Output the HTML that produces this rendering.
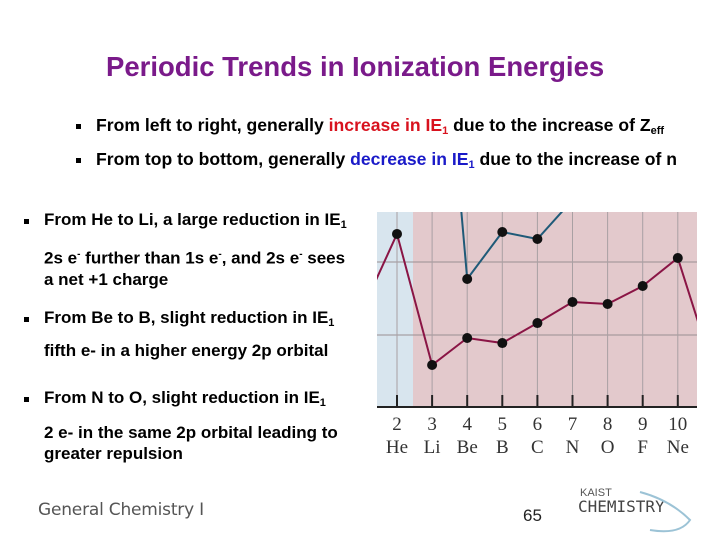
<!DOCTYPE html>
<html><head><meta charset="utf-8"><style>
body{margin:0;width:720px;height:540px;background:#fff;position:relative;overflow:hidden;font-family:"Liberation Sans",Arial,sans-serif}
.t{position:absolute;white-space:nowrap;font-weight:bold;font-size:17px;color:#000}
.b{position:absolute;width:5px;height:5px;background:#000}
sub{font-size:11px;vertical-align:-3px}
sup{font-size:10px}
</style></head><body>
<div class="t" style="left:106px;top:51px;font-size:27.5px;color:#7a1a8a">Periodic Trends in Ionization Energies</div>
<div class="b" style="left:76px;top:124px"></div>
<div class="t" style="left:96px;top:115px;font-size:17.6px">From left to right, generally <span style="color:#d8121e">increase in IE<sub>1</sub></span> due to the increase of Z<sub>eff</sub></div>
<div class="b" style="left:76px;top:158px"></div>
<div class="t" style="left:96px;top:149px;font-size:17.6px">From top to bottom, generally <span style="color:#1a1ac8">decrease in IE<sub>1</sub></span> due to the increase of n</div>
<div class="b" style="left:24px;top:219px"></div>
<div class="t" style="left:44px;top:210px">From He to Li, a large reduction in IE<sub>1</sub></div>
<div class="t" style="left:44px;top:244px;line-height:21px">2s e<sup>-</sup> further than 1s e<sup>-</sup>, and 2s e<sup>-</sup> sees<br>a net +1 charge</div>
<div class="b" style="left:24px;top:317px"></div>
<div class="t" style="left:44px;top:308px">From Be to B, slight reduction in IE<sub>1</sub></div>
<div class="t" style="left:44px;top:341px">fifth e- in a higher energy 2p orbital</div>
<div class="b" style="left:24px;top:397px"></div>
<div class="t" style="left:44px;top:388px">From N to O, slight reduction in IE<sub>1</sub></div>
<div class="t" style="left:44px;top:422px;line-height:21px">2 e- in the same 2p orbital leading to<br>greater repulsion</div>
<div class="t" style="left:38px;top:500px;font-weight:normal;font-size:17px;color:#555;font-family:'DejaVu Sans',sans-serif;letter-spacing:-0.2px">General Chemistry I</div>
<div class="t" style="left:523px;top:506px;font-weight:normal;font-size:17px;color:#222">65</div>
<div class="t" style="left:580px;top:487px;font-weight:normal;font-size:11px;color:#555">KAIST</div>
<div class="t" style="left:578px;top:497px;font-weight:normal;font-size:16px;color:#444;font-family:'DejaVu Sans Mono',monospace">CHEMISTRY</div>
<svg id="chart" width="720" height="540" style="position:absolute;left:0;top:0"></svg>
<script>
const zs=[1,2,3,4,5,6,7,8,9,10,11];
const symbols=["H","He","Li","Be","B","C","N","O","F","Ne","Na"];
const ie1=[1330,2384,589,959,890,1164,1452,1425,1671,2055,540];
const ie2Z=[3,4,5,6,7];
const ie2=[7300,1767,2411,2315,2849];
const gridVals=[1000,2000];
const NS="http://www.w3.org/2000/svg";
const svg=document.getElementById('chart');
const X0=377,X1=697,Y0=212,Y1=407;
const xs=z=>397+(z-2)*35.1;
const ys=v=>335-(v-1000)*0.073;
function mk(t,a,p){const e=document.createElementNS(NS,t);for(const k in a)e.setAttribute(k,a[k]);(p||svg).appendChild(e);return e;}
const defs=mk('defs',{});const cp=mk('clipPath',{id:'cp'},defs);mk('rect',{x:X0,y:Y0,width:X1-X0,height:Y1-Y0},cp);
let r=mk('rect',{x:X0,y:Y0,width:413-X0,height:Y1-Y0,fill:'#d8e5ee'});

r=mk('rect',{x:413,y:Y0,width:X1-413,height:Y1-Y0,fill:'#e3c9cc'});

gridVals.forEach(v=>{const l=mk('line',{x1:X0,x2:X1,y1:ys(v),y2:ys(v),stroke:'#9a8f92','stroke-width':1});
});
zs.forEach((z,i)=>{if(z<2||z>10)return;const x=xs(z);
const g=mk('line',{x1:x,x2:x,y1:Y0,y2:Y1,stroke:'#a9a0a3','stroke-width':1});

const tk=mk('line',{x1:x,x2:x,y1:395,y2:406,stroke:'#222','stroke-width':2});

const t1=mk('text',{x:x,y:430,'text-anchor':'middle','font-family':'Liberation Serif,serif','font-size':19,fill:'#333'});t1.textContent=z;

const t2=mk('text',{x:x,y:453,'text-anchor':'middle','font-family':'Liberation Serif,serif','font-size':19,fill:'#333'});t2.textContent=symbols[i];
});
const ax=mk('line',{x1:X0,x2:X1,y1:Y1,y2:Y1,stroke:'#222','stroke-width':2});

const g=mk('g',{'clip-path':'url(#cp)'});
const p2=mk('polyline',{points:ie2Z.map((z,i)=>xs(z)+','+ys(ie2[i])).join(' '),fill:'none',stroke:'#1f5a78','stroke-width':2},g);

const p1=mk('polyline',{points:zs.map((z,i)=>xs(z)+','+ys(ie1[i])).join(' '),fill:'none',stroke:'#8a1545','stroke-width':2},g);

ie2Z.forEach((z,i)=>{const y=ys(ie2[i]);if(y<Y0)return;const c=mk('circle',{cx:xs(z),cy:y,r:5,fill:'#111'},g);
});
zs.forEach((z,i)=>{if(z<2||z>10)return;const c=mk('circle',{cx:xs(z),cy:ys(ie1[i]),r:5,fill:'#111'},g);
});
const sw=mk('path',{d:'M640 492 Q670 500 690 520 Q680 535 650 530',fill:'none',stroke:'#9cc3d6','stroke-width':2});

</script>
</body></html>
